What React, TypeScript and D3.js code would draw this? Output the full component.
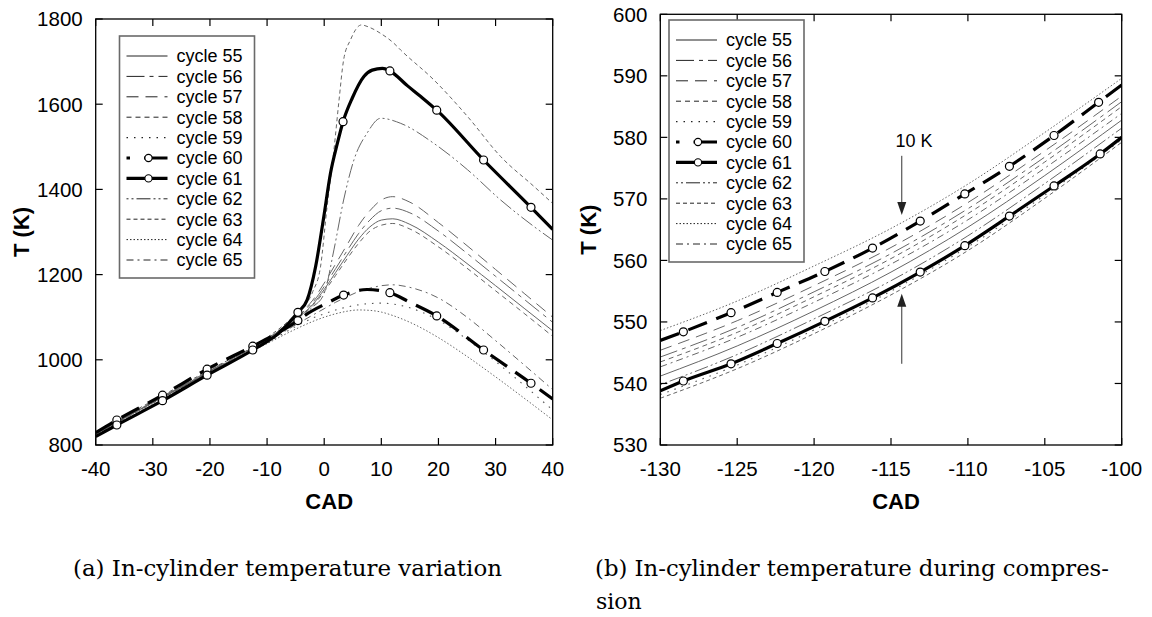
import React from "react";
import * as d3 from "d3";

// ---------- data ----------
const cycleIds = [55, 56, 57, 58, 59, 60, 61, 62, 63, 64, 65];

// Left panel (CAD -40..40)
const leftGrid = [-40, -30, -20, -10, -5, -2, 0, 2, 4, 6, 8, 10, 12, 15, 20, 25, 30, 35, 40];
const left55 = [826, 900, 972, 1046, 1095, 1130, 1165, 1205, 1245, 1283, 1312, 1328, 1331, 1318, 1276, 1226, 1174, 1121, 1068];
const left56 = [827, 901, 974, 1049, 1098, 1135, 1172, 1214, 1256, 1296, 1328, 1350, 1356, 1345, 1302, 1250, 1196, 1142, 1088];
const left57 = [828, 902, 975, 1050, 1100, 1140, 1180, 1225, 1270, 1315, 1350, 1375, 1383, 1370, 1322, 1268, 1212, 1156, 1100];
const left58 = [825, 899, 971, 1045, 1093, 1127, 1160, 1198, 1237, 1273, 1302, 1316, 1320, 1307, 1265, 1215, 1162, 1109, 1055];
const left59 = [825, 899, 970, 1040, 1078, 1098, 1108, 1117, 1124, 1129, 1132, 1133, 1131, 1122, 1093, 1048, 996, 940, 882];
const left64 = [824, 898, 969, 1038, 1072, 1090, 1100, 1108, 1114, 1117, 1116, 1112, 1104, 1088, 1052, 1008, 960, 910, 859];
const left65 = [826, 900, 971, 1042, 1082, 1105, 1120, 1135, 1148, 1160, 1168, 1174, 1176, 1170, 1145, 1100, 1045, 988, 930];

const left62X = [-40, -30, -20, -10, -5, -2, 0, 1.7, 3.4, 5.2, 7.5, 9.9, 13.4, 19.2, 25.1, 30.9, 36.8, 40];
const left62Y = [827, 901, 973, 1047, 1098, 1124, 1156, 1258, 1375, 1469, 1532, 1567, 1555, 1508, 1446, 1375, 1312, 1281];

const left63X = [-40, -30, -20, -10, -5, -2, -0.65, 0.5, 1.7, 2.6, 3.4, 4.6, 6.5, 8, 9.9, 12.2, 13.4, 19.2, 25.1, 30.9, 36.8, 40];
const left63Y = [830, 904, 977, 1052, 1108, 1160, 1218, 1359, 1492, 1610, 1704, 1751, 1786, 1780, 1766, 1743, 1727, 1657, 1571, 1477, 1406, 1367];

const left60X = [-40, -36.3, -28.3, -20.5, -12.5, -8, -4.6, -3.3, 0.5, 3.4, 7.5, 11.5, 15, 19.7, 27.9, 36.2, 40];
const left60Y = [829, 858.7, 917, 978, 1032, 1064, 1092, 1105, 1133, 1152, 1165, 1157.5, 1135, 1103, 1023, 945, 908];
const left60Marks = [1, 2, 3, 4, 6, 9, 11, 13, 14, 15];

const left61X = [-40, -36.3, -28.3, -20.5, -12.5, -8, -4.6, -3, -1.5, -0.07, 1.1, 2.3, 3.3, 4.9, 6.95, 8.4, 10.2, 11.5, 14.6, 16.9, 19.7, 27.9, 36.2, 40];
const left61Y = [820, 847, 904, 964, 1023, 1062, 1111.5, 1140, 1219, 1336, 1438, 1508, 1559, 1614, 1665, 1680, 1684, 1678, 1643, 1618, 1586, 1469, 1358, 1306];
const left61Marks = [1, 2, 3, 4, 6, 12, 17, 20, 21, 22];

// Right panel (CAD -130..-100)
const rightGrid = [-130, -125, -120, -115, -110, -105, -100];
const right55 = [541.2, 546.1, 551.8, 558.1, 565.4, 573.8, 582.8];
const right56 = [544.3, 549.1, 554.9, 561.1, 568.4, 576.8, 585.8];
const right57 = [545.4, 550.2, 555.9, 562.1, 569.4, 577.8, 586.7];
const right58 = [543.5, 548.3, 554.1, 560.3, 567.6, 576.0, 585.0];
const right59 = [538.2, 543.0, 548.7, 555.0, 562.2, 570.6, 579.6];
const right62 = [539.8, 544.7, 550.5, 556.7, 564.0, 572.5, 581.5];
const right63 = [537.6, 542.4, 548.1, 554.4, 561.6, 570.1, 579.2];
const right64 = [548.6, 553.4, 559.1, 565.2, 572.4, 580.8, 589.6];
const right65 = [542.7, 547.5, 553.2, 559.4, 566.6, 575.0, 583.9];
const right60X = [-130, -128.5, -125.4, -122.4, -119.3, -116.2, -113.1, -110.2, -107.3, -104.4, -101.5, -100];
const right60Y = [547.0, 548.4, 551.5, 554.8, 558.2, 562.0, 566.4, 570.8, 575.3, 580.3, 585.7, 588.5];
const right61X = [-130, -128.5, -125.4, -122.4, -119.3, -116.2, -113.1, -110.2, -107.3, -104.4, -101.4, -100];
const right61Y = [538.8, 540.4, 543.2, 546.5, 550.1, 553.9, 558.1, 562.4, 567.2, 572.1, 577.3, 580.0];
const rightMarks = [1, 2, 3, 4, 5, 6, 7, 8, 9, 10];

const leftXTicks = [-40, -30, -20, -10, 0, 10, 20, 30, 40];
const leftYTicks = [800, 1000, 1200, 1400, 1600, 1800];
const rightXTicks = [-130, -125, -120, -115, -110, -105, -100];
const rightYTicks = [530, 540, 550, 560, 570, 580, 590, 600];

// annotation (right panel)
const annX = -114.3;
const annDown = [577.0, 567.4];
const annUp = [543.2, 554.6];
const annText = { x: -113.5, y: 578.4, label: "10 K" };

// ---------- styles ----------
type St = { dash?: string; w: number; c: string };
const styleOf: Record<number, St> = {
  55: { w: 1, c: "#666" },
  56: { dash: "18,5,4,5", w: 1, c: "#666" },
  57: { dash: "12,7", w: 1, c: "#666" },
  58: { dash: "5,4", w: 1, c: "#666" },
  59: { dash: "1.5,6", w: 1.1, c: "#555" },
  60: { dash: "20,10", w: 3.2, c: "#000" },
  61: { w: 3.2, c: "#000" },
  62: { dash: "2,3,2,3,14,3", w: 1, c: "#666" },
  63: { dash: "4,3", w: 1, c: "#666" },
  64: { dash: "1.5,2", w: 1, c: "#666" },
  65: { dash: "7,4,2,4", w: 1, c: "#666" },
};

type Series = { id: number; x: number[]; y: number[]; marks?: number[] };

const leftSeries: Series[] = [
  { id: 55, x: leftGrid, y: left55 },
  { id: 56, x: leftGrid, y: left56 },
  { id: 57, x: leftGrid, y: left57 },
  { id: 58, x: leftGrid, y: left58 },
  { id: 59, x: leftGrid, y: left59 },
  { id: 62, x: left62X, y: left62Y },
  { id: 63, x: left63X, y: left63Y },
  { id: 64, x: leftGrid, y: left64 },
  { id: 65, x: leftGrid, y: left65 },
  { id: 60, x: left60X, y: left60Y, marks: left60Marks },
  { id: 61, x: left61X, y: left61Y, marks: left61Marks },
];

const rightSeries: Series[] = [
  { id: 55, x: rightGrid, y: right55 },
  { id: 56, x: rightGrid, y: right56 },
  { id: 57, x: rightGrid, y: right57 },
  { id: 58, x: rightGrid, y: right58 },
  { id: 59, x: rightGrid, y: right59 },
  { id: 62, x: rightGrid, y: right62 },
  { id: 63, x: rightGrid, y: right63 },
  { id: 64, x: rightGrid, y: right64 },
  { id: 65, x: rightGrid, y: right65 },
  { id: 60, x: right60X, y: right60Y, marks: rightMarks },
  { id: 61, x: right61X, y: right61Y, marks: rightMarks },
];

const SANS = "Arial, 'Liberation Sans', Helvetica, sans-serif";
const SERIF = "'DejaVu Serif', 'Liberation Serif', serif";

type PanelProps = {
  id: string;
  xs: d3.ScaleLinear<number, number>;
  ys: d3.ScaleLinear<number, number>;
  xTicks: number[];
  yTicks: number[];
  series: Series[];
  legend: { x: number; y: number };
  yLabelX: number;
  children?: React.ReactNode;
};

function Panel({ id, xs, ys, xTicks, yTicks, series, legend, yLabelX, children }: PanelProps) {
  const [x0, x1] = xs.range();
  const [y0, y1] = ys.range(); // y0 bottom, y1 top
  const tl = 7;
  const line = (s: Series) =>
    d3
      .line<number>()
      .x((_, i) => xs(s.x[i]))
      .y((v) => ys(v))
      .curve(d3.curveMonotoneX)(s.y) || "";
  const rowH = 20.4;
  const lw = 135;
  const lh = 242;
  return (
    <g>
      <defs>
        <clipPath id={`clip-${id}`}>
          <rect x={x0} y={y1} width={x1 - x0} height={y0 - y1} />
        </clipPath>
      </defs>
      <g clipPath={`url(#clip-${id})`}>
        {series.map((s) => {
          const st = styleOf[s.id];
          return (
            <path
              key={s.id}
              d={line(s)}
              fill="none"
              stroke={st.c}
              strokeWidth={st.w}
              strokeDasharray={st.dash}
            />
          );
        })}
      </g>
      {series
        .filter((s) => s.marks)
        .map((s) =>
          s.marks!.map((i) => (
            <circle
              key={`${s.id}-${i}`}
              cx={xs(s.x[i])}
              cy={ys(s.y[i])}
              r={4}
              fill="#fff"
              stroke="#000"
              strokeWidth={1.2}
            />
          ))
        )}
      {children}
      {/* frame */}
      <rect x={x0} y={y1} width={x1 - x0} height={y0 - y1} fill="none" stroke="#000" strokeWidth={1.3} />
      {xTicks.map((t) => (
        <g key={`xt${t}`}>
          <line x1={xs(t)} x2={xs(t)} y1={y0} y2={y0 - tl} stroke="#000" strokeWidth={1.2} />
          <line x1={xs(t)} x2={xs(t)} y1={y1} y2={y1 + tl} stroke="#000" strokeWidth={1.2} />
          <text x={xs(t)} y={y0 + 31} textAnchor="middle" fontFamily={SANS} fontSize={20.5} fill="#000">
            {t}
          </text>
        </g>
      ))}
      {yTicks.map((t) => (
        <g key={`yt${t}`}>
          <line x1={x0} x2={x0 + tl} y1={ys(t)} y2={ys(t)} stroke="#000" strokeWidth={1.2} />
          <line x1={x1} x2={x1 - tl} y1={ys(t)} y2={ys(t)} stroke="#000" strokeWidth={1.2} />
          <text x={x0 - 13} y={ys(t) + 7.4} textAnchor="end" fontFamily={SANS} fontSize={20.5} fill="#000">
            {t}
          </text>
        </g>
      ))}
      <text
        x={(x0 + x1) / 2 + 5}
        y={y0 + 64}
        textAnchor="middle"
        fontFamily={SANS}
        fontWeight="bold"
        fontSize={22}
      >
        CAD
      </text>
      <text
        transform={`translate(${yLabelX},${(y0 + y1) / 2}) rotate(-90)`}
        textAnchor="middle"
        fontFamily={SANS}
        fontWeight="bold"
        fontSize={22}
      >
        T (K)
      </text>
      {/* legend */}
      <g transform={`translate(${legend.x},${legend.y})`}>
        <rect x={0} y={0} width={lw} height={lh} fill="#fff" stroke="#6a6a6a" strokeWidth={1.6} />
        {cycleIds.map((c, k) => {
          const st = styleOf[c];
          const yy = 20 + k * rowH;
          const thick = c === 60 || c === 61;
          return (
            <g key={c}>
              <line
                x1={7}
                x2={48}
                y1={yy}
                y2={yy}
                stroke={thick ? "#000" : "#222"}
                strokeWidth={st.w}
                strokeDasharray={c === 60 ? "3.5,14,30" : st.dash}
              />
              {thick && <circle cx={29} cy={yy} r={3.6} fill="#fff" stroke="#000" strokeWidth={1.1} />}
              <text x={57} y={yy + 6.3} fontFamily={SANS} fontSize={18} fill="#000">
                {`cycle ${c}`}
              </text>
            </g>
          );
        })}
      </g>
    </g>
  );
}

export default function App() {
  const xL = d3.scaleLinear().domain([-40, 40]).range([95.7, 552.7]);
  const yL = d3.scaleLinear().domain([800, 1800]).range([445, 19]);
  const xR = d3.scaleLinear().domain([-130, -100]).range([660.3, 1121.7]);
  const yR = d3.scaleLinear().domain([530, 600]).range([445, 14.3]);

  const ax = xR(annX);
  const head = (yTip: number, dir: number) => {
    const hl = 13;
    const hw = 4.5;
    return `M${ax},${yTip} L${ax - hw},${yTip - dir * hl} L${ax + hw},${yTip - dir * hl} Z`;
  };

  return (
    <svg
      width={1152}
      height={617}
      viewBox="0 0 1152 617"
      style={{ position: "absolute", left: 0, top: 0, background: "#fff" }}
    >
      <rect x={0} y={0} width={1152} height={617} fill="#fff" />
      <Panel
        id="a"
        xs={xL}
        ys={yL}
        xTicks={leftXTicks}
        yTicks={leftYTicks}
        series={leftSeries}
        legend={{ x: 119.5, y: 36 }}
        yLabelX={29}
      />
      <Panel
        id="b"
        xs={xR}
        ys={yR}
        xTicks={rightXTicks}
        yTicks={rightYTicks}
        series={rightSeries}
        legend={{ x: 669, y: 20 }}
        yLabelX={596}
      >
        <line x1={ax} x2={ax} y1={yR(annDown[0])} y2={yR(annDown[1]) - 10} stroke="#333" strokeWidth={1} />
        <path d={head(yR(annDown[1]), 1)} fill="#222" />
        <line x1={ax} x2={ax} y1={yR(annUp[0])} y2={yR(annUp[1]) + 10} stroke="#333" strokeWidth={1} />
        <path d={head(yR(annUp[1]), -1)} fill="#222" />
        <text x={xR(annText.x)} y={yR(annText.y)} textAnchor="middle" fontFamily={SANS} fontSize={18}>
          {annText.label}
        </text>
      </Panel>
      <text x={73} y={576} fontFamily={SERIF} fontSize={22} textLength={429} lengthAdjust="spacingAndGlyphs">
        (a) In-cylinder temperature variation
      </text>
      <text x={595} y={576} fontFamily={SERIF} fontSize={22} textLength={514} lengthAdjust="spacingAndGlyphs">
        (b) In-cylinder temperature during compres-
      </text>
      <text x={596} y={609} fontFamily={SERIF} fontSize={22}>
        sion
      </text>
    </svg>
  );
}
